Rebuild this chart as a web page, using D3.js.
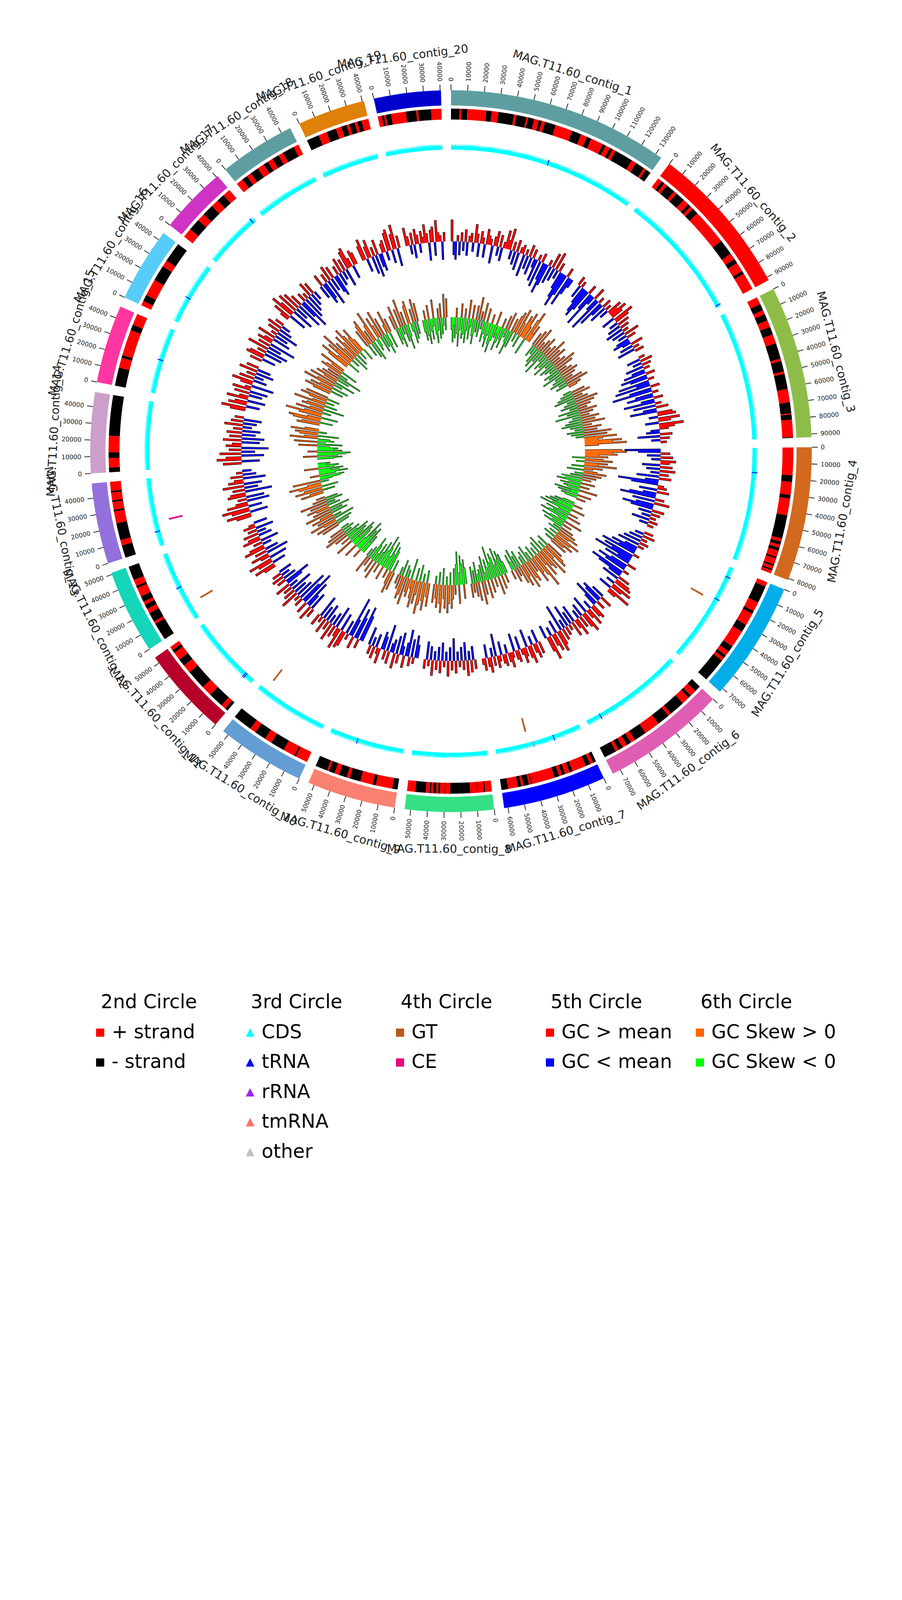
<!DOCTYPE html>
<html>
<head>
  <meta charset="utf-8">
  <title>MAG.T11.60 circular map</title>
  <script src="https://d3js.org/d3.v7.min.js"></script>
  <style>
    body { margin: 0; background: #fff; }
    svg text { font-family: "DejaVu Sans", sans-serif; }
  </style>
</head>
<body>
  <svg id="genome" width="2310" height="4620"></svg>

  <script>
    // ---- DATA ----
    const contigNames = [
      "MAG.T11.60_contig_1", "MAG.T11.60_contig_2", "MAG.T11.60_contig_3", "MAG.T11.60_contig_4",
      "MAG.T11.60_contig_5", "MAG.T11.60_contig_6", "MAG.T11.60_contig_7", "MAG.T11.60_contig_8",
      "MAG.T11.60_contig_9", "MAG.T11.60_contig_10", "MAG.T11.60_contig_11", "MAG.T11.60_contig_12",
      "MAG.T11.60_contig_13", "MAG.T11.60_contig_14", "MAG.T11.60_contig_15", "MAG.T11.60_contig_16",
      "MAG.T11.60_contig_17", "MAG.T11.60_contig_18", "MAG.T11.60_contig_19", "MAG.T11.60_contig_20"
    ];
    const contigLengths = [134000, 92000, 92000, 81000, 72500, 75000, 62300, 53700, 53700, 53700,
      54000, 51000, 48800, 48800, 47300, 45000, 41000, 46000, 41000, 40500];
    const contigColors = ["#5f9ea0", "#ff0000", "#8dbd48", "#d2691e", "#02aeea", "#df5db3", "#0000ff",
      "#34e084", "#fa8072", "#649dd3", "#b70029", "#14d5b9", "#9370db", "#cc9fca", "#ff36a1",
      "#58ccf8", "#cf33c3", "#5f9ea0", "#df8008", "#0000cd"];

    // 2nd circle: strand runs, "<strand><end in kb>" one after another
    const strandRuns = [
      "-5.4 +6.6 -10.4 +22.4 -25.8 +30 -40 +41.5 -48 +49 -53 +56 -58 +60 -67 +78 -84 +88 -91 +99 -101 +104 -106 +108 -120 +123 -129 +130.5 -134",
      "+3 -5 +7 -13 +15 -21 +25 -27 +29 -33 +56 -66 +70 -73 +79 -81 +92",
      "+4.8 -9 +11.7 -16 +20.4 -25.4 +31.3 -41.4 +43 -49.7 +51.2 -61 +69.5 -76.5 +77.2 -80.5 +91.5 -92",
      "+17.6 -21.8 +30 -32.3 +43 -58 +60 -62 +64 -66 +70 -71 +75 -76 +78 -79 +81",
      "+3 -14 +20 -22 +30 -35 +46 -50 +53 -55 +57 -72.5",
      "-4 +8 -10 +15 -25 +27 -35 +45 -53 +56 -59 +62 -65 +67 -75",
      "-2 +4 -7 +16 -18 +21 -23 +25 -28 +42.8 -43.3 +44.7 -48.1 +49.6 -51.8 +58 -62.3",
      "+4.3 -5.2 +8.9 -9.3 +13.8 -26.4 +29.3 -29.8 +32.8 -34 +35.3 -37.2 +38.5 -39.4 +41.8 -48.5 +53.7",
      "-3.4 +14 -16 +24 -31 +33 -38 +41 -44.7 +46 -53.7",
      "+7.9 -9 +16.5 -25.5 +30.2 -37.5 +41.3 -53.7",
      "-2 +5 -14.8 +21.4 -34 +39.4 -44.2 +49.5 -51.5 +54",
      "-11.3 +13 -19 +22 -25 +27 -30.8 +36.5 -38 +42 -51",
      "-8 +11.5 -22.4 +30 -31 +36 -37 +42 -43 +48.8",
      "-3 +9 -12.6 +23 -48.8",
      "-11.6 +18 -19.8 +36.4 -40 +47.3",
      "+3 -7.2 +18 -28 +32.3 -45",
      "+6 -13.7 +18.6 -26 +31 -36 +41",
      "+4.4 -8 +11 -16.4 +20.8 -24 +27.4 -31.8 +35 -42.7 +46",
      "-8 +13.4 -19.6 +23.2 -26.7 +28.5 -32 +33.8 -36.5 +41",
      "+2.6 -4 +5.2 -8.6 +18 -24.5 +25.8 -34 +40.5"
    ];

    // 3rd circle: RNA genes drawn over the CDS ring [contig, kb, type]
    const rnaSites = [[1, 70, "tRNA"], [2, 90.5, "tRNA"], [4, 17.6, "tRNA"], [5, 7.5, "tRNA"],
      [5, 24.8, "tRNA"], [6, 64.5, "tRNA"], [7, 20, "tRNA"], [7, 35, "tmRNA"], [9, 33.6, "tRNA"],
      [11, 6.5, "tRNA"], [11, 7.6, "tRNA"], [12, 25, "tRNA"], [13, 10.6, "tRNA"], [15, 24, "tRNA"],
      [16, 18.8, "tRNA"], [17, 38.7, "tRNA"]];

    // 4th circle: CAZyme hits [contig, kb, class]
    const cazySites = [[5, 27, "GT"], [7, 38.3, "GT"], [10, 48.4, "GT"], [12, 11.3, "GT"], [13, 17.3, "CE"]];

    // 5th / 6th circle: one char per window, digits = +0..9, a..j = -1..-10
    const gcContent = [
      "7cd2c3b4c23b63c42c532d35b4c2637b3c4d23e2c4d3be2f3dge2d5c6b3dfhe3gdb",
      "3c2dfge3dhb4ch2fc3d2b5364c75b4c3d2c5b3cdb4c2d3",
      "2c4b3d2ce3fd2gch3ei2df3cg2e4cf56b74c853bc4e3b2",
      "he3c4b53d4c5b3e4cif23d4cfh3e5dge4c3b2d3b2",
      "3b4c2d3e2cfdh2geicf3dge2hfc4d56b74c83",
      "c4ed3fc54b63d75c4b63d5c2e3b4f57c64b85c",
      "4c53b64d352c43d253b43c24e3b53c42",
      "3c4b5d3c2b4e3c5b2d4c3b5c2d3",
      "ce2d3fc4be3d5cb4f3cd52c4b3d",
      "fh3eg4di2c56d73e4c6b3d5c2e4",
      "3d5cf4he3g2d6c4e3b5df3c4b3c",
      "47c58d36e4c75b3d64c5b3d42c",
      "58d69c74e3d65f4c7d53e4c2b",
      "6d85e7c4f53d6e4c5d3b6c4d3",
      "58c64d73c5d62e47c5b3d6c4",
      "4c65d3e7c4f53d6c2e4c5b3",
      "36d85e7c6f4dg3e2d5c4b",
      "c4ed3f5c4de3c5b4d673c54",
      "57c46d3e5cd34b67c58d4",
      "63b4c53b4263d45c732d3"
    ];
    const gcSkew = [
      "cfbe2dgc3ed2fc4eb3df3c5d2b4ec3dfc2egd3cbfd2ce3b4cf3d45b63c5463d5724",
      "3c4b5d2e3c4f2b3d5c3e4b2d3c5b4d2c3e4b3c2d4b5c32",
      "b3c4d2e3b5c4d3b2e4c3f2b4c3d5e2c4b3d6c5b7438693",
      "896735c46b537c42d35b4c3e2df3ce2dc4fbe3dc2",
      "ce2fdg3ehc2fd3egb4df2ce3b4c53b64c53b4",
      "4c56b37d54c63b85c46b3d54c6b35d4c2e3bd2",
      "ce2fd3gc4ef2dh3ce4bf3d5cb4e3c2d3",
      "df3egc4he2d35c46b53d64c53b4",
      "53c64b57d35c642e43b6c45d3b2",
      "4c53ef2dgc3ehd2fc4eb3df2c4b",
      "ecg2fdhc3efbg4de2fc3d5b4c3b",
      "4c5d36e4b53d6c4e35c4b6d3c2",
      "53c64d573b6cef2dgecf3debc",
      "df3egh2fdec4fb5dc63e45b63",
      "54c673d584b63e54c73b46c5",
      "46c53d74b6e35c4f3b54d36",
      "573c648b53d64c75b463c",
      "4c56d3e47cb53d6c4ec25d3",
      "3d5ce4b6d3fc45be3d5c4",
      "ce2df3ceb4dfc2e3db5c4"
    ];

    // legend
    const legendTitles = ["2nd Circle", "3rd Circle", "4th Circle", "5th Circle", "6th Circle"];
    const legendLabels = [
      ["+ strand", "- strand"],
      ["CDS", "tRNA", "rRNA", "tmRNA", "other"],
      ["GT", "CE"],
      ["GC > mean", "GC < mean"],
      ["GC Skew > 0", "GC Skew < 0"]
    ];
    const legendColors = [
      ["#ff0000", "#000000"],
      ["#00ffff", "#0000ff", "#a020f0", "#ff6b6b", "#c0c0c0"],
      ["#b85a1f", "#e8087f"],
      ["#ff0000", "#0000ff"],
      ["#ff6600", "#00ff00"]
    ];
    const legendShapes = ["square", "triangle", "square", "square", "square"];

    const strandColor = { "+": "#ff0000", "-": "#000000" };
    const rnaColor = { tRNA: "#0000ff", rRNA: "#a020f0", tmRNA: "#ff6b6b", other: "#c0c0c0" };
    const cazyColor = { GT: "#b85a1f", CE: "#e8087f" };


    // ---- 0. layout ----
    const svg = d3.select("svg#genome");
    svg.append("rect").attr("width", 2310).attr("height", 4620).attr("fill", "#fff");

    const cx = 1155, cy = 1155;
    const gapDeg = 1.6;
    const degPerBp = (360 - gapDeg * contigLengths.length) / d3.sum(contigLengths);

    const plot = svg.append("g").attr("transform", `translate(${cx},${cy})`);
    const arc = d3.arc();

    // radial positions of each circle
    const blockR = [885, 924];
    const strandR = [849, 877];
    const cdsR = [772, 780, 787];
    const cazyR = [707, 743];
    // GC content: mean sits nearer the outer edge, low windows reach further in
    const gcR = d3.scaleLinear().domain([-8, 0, 8]).range([445, 537, 600]);
    const skewR = d3.scaleLinear().domain([-8, 0, 8]).range([258, 343, 438]);

    function polar(r, a) {
      return [r * Math.sin(a), -r * Math.cos(a)];
    }

    function decode(s) {
      return Array.from(s).map(ch => /[0-9]/.test(ch) ? +ch : -(ch.charCodeAt(0) - 96));
    }

    function parseRuns(s, len) {
      let prev = 0;
      return s.trim().split(/\s+/).map(tok => {
        const end = Math.min(len, +tok.slice(1) * 1000);
        const run = { strand: tok[0], start: prev, end: end };
        prev = end;
        return run;
      });
    }

    // one angular scale per contig
    let acc = 0;
    const sectors = contigLengths.map((len, i) => {
      const a0 = acc * Math.PI / 180;
      const a1 = (acc + len * degPerBp) * Math.PI / 180;
      acc += len * degPerBp + gapDeg;
      return {
        i: i, name: contigNames[i], len: len, color: contigColors[i],
        x: d3.scaleLinear().domain([0, len]).range([a0, a1])
      };
    });

    const layers = {
      skew: plot.append("g").attr("id", "gcskew"),
      gc: plot.append("g").attr("id", "gccontent"),
      cazy: plot.append("g").attr("id", "cazy"),
      cds: plot.append("g").attr("id", "cds"),
      strand: plot.append("g").attr("id", "strand"),
      block: plot.append("g").attr("id", "contigs"),
      labels: plot.append("g").attr("id", "labels")
    };


    // ---- 1. contig blocks, ticks and names ----
    sectors.forEach(s => {
      layers.block.append("path")
        .attr("d", arc({ innerRadius: blockR[0], outerRadius: blockR[1], startAngle: s.x(0), endAngle: s.x(s.len) }))
        .attr("fill", s.color);

      d3.range(0, s.len + 1, 10000).forEach(bp => {
        const a = s.x(bp);
        const deg = a * 180 / Math.PI;
        const p1 = polar(blockR[1], a), p2 = polar(blockR[1] + 15, a), pt = polar(947, a);
        layers.labels.append("line")
          .attr("x1", p1[0]).attr("y1", p1[1]).attr("x2", p2[0]).attr("y2", p2[1])
          .attr("stroke", "#111").attr("stroke-width", 1.8);
        const right = deg < 180;
        layers.labels.append("text")
          .attr("transform", `translate(${pt[0]},${pt[1]}) rotate(${right ? deg - 90 : deg + 90})`)
          .attr("text-anchor", right ? "start" : "end")
          .attr("dominant-baseline", "central")
          .attr("font-size", 16)
          .attr("fill", "#222")
          .text(bp);
      });

      const mid = (s.x(0) + s.x(s.len)) / 2;
      const mdeg = mid * 180 / Math.PI;
      const pm = polar(1018, mid);
      layers.labels.append("text")
        .attr("transform", `translate(${pm[0]},${pm[1]}) rotate(${mdeg > 90 && mdeg < 270 ? mdeg - 180 : mdeg})`)
        .attr("text-anchor", "middle")
        .attr("dominant-baseline", "central")
        .attr("font-size", 29.5)
        .attr("fill", "#222")
        .text(s.name);
    });


    // ---- 2. strand ring and 3. CDS ring ----
    sectors.forEach(s => {
      const runs = parseRuns(strandRuns[s.i], s.len);
      runs.forEach(r => {
        layers.strand.append("path")
          .attr("d", arc({ innerRadius: strandR[0], outerRadius: strandR[1], startAngle: s.x(r.start), endAngle: s.x(r.end) }))
          .attr("fill", strandColor[r.strand]);
      });

      // CDS arrows: each run is cut into gene-sized pieces, head drawn as a tooth
      const p = d3.path();
      const start = polar(cdsR[0], s.x(0));
      p.moveTo(start[0], start[1]);
      let q = polar(cdsR[1], s.x(0));
      p.lineTo(q[0], q[1]);
      runs.forEach(r => {
        const n = Math.max(1, Math.round((r.end - r.start) / 1300));
        const step = (r.end - r.start) / n;
        for (let k = 0; k < n; k++) {
          const b0 = r.start + k * step;
          const tip = polar(cdsR[2], s.x(b0 + step / 2));
          const foot = polar(cdsR[1], s.x(b0 + step));
          p.lineTo(tip[0], tip[1]);
          p.lineTo(foot[0], foot[1]);
        }
      });
      q = polar(cdsR[0], s.x(s.len));
      p.lineTo(q[0], q[1]);
      p.arc(0, 0, cdsR[0], s.x(s.len) - Math.PI / 2, s.x(0) - Math.PI / 2, true);
      p.closePath();
      layers.cds.append("path").attr("d", p.toString()).attr("fill", "#00ffff");
    });

    rnaSites.forEach(d => {
      const s = sectors[d[0] - 1];
      const bp = d[1] * 1000;
      layers.cds.append("path")
        .attr("d", arc({ innerRadius: cdsR[0], outerRadius: cdsR[2], startAngle: s.x(bp - 300), endAngle: s.x(bp + 300) }))
        .attr("fill", rnaColor[d[2]]);
    });


    // ---- 4. CAZyme ring ----
    cazySites.forEach(d => {
      const s = sectors[d[0] - 1];
      const bp = d[1] * 1000;
      layers.cazy.append("path")
        .attr("d", arc({ innerRadius: cazyR[0], outerRadius: cazyR[1], startAngle: s.x(bp - 650), endAngle: s.x(bp + 650) }))
        .attr("fill", cazyColor[d[2]]);
    });


    // ---- 5. GC content and 6. GC skew ----
    function drawWindows(layer, strings, rScale, posColor, negColor) {
      sectors.forEach(s => {
        const vals = decode(strings[s.i]);
        const w = s.len / vals.length;
        const r0 = rScale(0);

        vals.forEach((v, j) => {
          if (v === 0) return;
          const r1 = rScale(v);
          layer.append("path")
            .attr("d", arc({
              innerRadius: Math.min(r0, r1), outerRadius: Math.max(r0, r1),
              startAngle: s.x(j * w), endAngle: s.x((j + 1) * w)
            }))
            .attr("fill", v > 0 ? posColor : negColor);
        });

        // black step outline along the profile
        const p = d3.path();
        let pt = polar(r0, s.x(0));
        p.moveTo(pt[0], pt[1]);
        vals.forEach((v, j) => {
          const r1 = rScale(v);
          pt = polar(r1, s.x(j * w));
          p.lineTo(pt[0], pt[1]);
          p.arc(0, 0, r1, s.x(j * w) - Math.PI / 2, s.x((j + 1) * w) - Math.PI / 2, false);
        });
        pt = polar(r0, s.x(s.len));
        p.lineTo(pt[0], pt[1]);
        layer.append("path").attr("d", p.toString())
          .attr("fill", "none").attr("stroke", "#000").attr("stroke-width", 1.1);
      });
    }

    drawWindows(layers.gc, gcContent, gcR, "#ff0000", "#0000ff");
    drawWindows(layers.skew, gcSkew, skewR, "#ff6600", "#00ff00");


    // ---- 7. legend ----
    const legend = svg.append("g").attr("id", "legend");
    const colStep = 384, x0 = 246, titleBase = 2581, rowBase = 2657.6, rowStep = 76.5;

    legendTitles.forEach((title, c) => {
      const x = x0 + c * colStep;
      legend.append("text")
        .attr("x", x + 12).attr("y", titleBase)
        .attr("font-size", 49).attr("fill", "#000")
        .text(title);

      legendLabels[c].forEach((label, j) => {
        const y = rowBase + j * rowStep;
        const color = legendColors[c][j];
        if (legendShapes[c] === "square") {
          legend.append("rect")
            .attr("x", x).attr("y", y - 24.5).attr("width", 21).attr("height", 21)
            .attr("rx", 1.5).attr("fill", color);
        } else {
          legend.append("path")
            .attr("d", `M${x + 10.5},${y - 25} L${x + 21.5},${y - 3.5} L${x - 0.5},${y - 3.5} Z`)
            .attr("fill", color);
        }
        legend.append("text")
          .attr("x", x + 40).attr("y", y)
          .attr("font-size", 49).attr("fill", "#000")
          .text(label);
      });
    });
  </script>
</body>
</html>
